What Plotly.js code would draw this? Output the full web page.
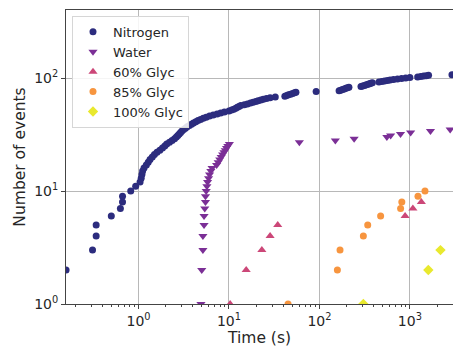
<!DOCTYPE html>
<html>
<head>
<meta charset="utf-8">
<script src="https://cdn.plot.ly/plotly-3.0.1.min.js"></script>
<style>html,body{margin:0;padding:0;background:#fff;}#chart{width:453px;height:347px;}</style>
</head>
<body>
<div id="chart"></div>
<script>
// ---- data ----
const seriesNames = ["Nitrogen", "Water", "60% Glyc", "85% Glyc", "100% Glyc"];

const nitrogenTime = [0.158,0.31,0.34,0.34,0.50,0.63,0.665,0.665,0.82,0.93,
  1.04,1.07,1.09,1.11,1.15,1.22,1.28,1.34,1.42,1.50,1.60,1.72,1.84,1.95,2.05,
  2.2,2.35,2.5,2.62,2.72,2.82,2.92,3.02,3.15,3.3,3.45,3.65,3.85,4.05,4.3,4.55,
  4.85,5.2,5.6,6.1,6.7,7.4,8.1,8.9,10.0,10.7,11.3,11.9,12.4,12.9,13.5,14.8,16.0,
  17.3,18.5,19.8,21.0,22.5,24.0,26.0,28.5,32.5,41.5,43.5,45.5,48.0,50.5,53.0,55.0,
  92,165,172,180,188,196,204,212,288,300,315,330,345,358,370,385,455,490,525,565,
  605,660,730,810,900,1000,1220,1320,1420,1520,1610,2920];
const nitrogenEvents = [2,3,4,5,6,7,8,9,10,11,12,13,14,15,16,17,18,19,20,21,22,23,24,25,26,
  27,28,29,30,31,32,33,34,35,36,37,38,39,40,41,42,43,44,45,46,47,48,49,50,51,52,53,54,55,
  56,57,58,59,60,61,62,63,64,65,66,67,68,69,70,71,72,73,74,75,76,77,78,79,80,81,82,83,84,
  85,86,87,88,89,90,91,92,93,94,95,96,97,98,99,100,101,102,103,104,105,106,107];

const waterTime = [4.9,5.0,5.15,5.15,5.3,5.3,5.4,5.5,5.5,5.6,5.7,5.8,5.95,6.1,6.3,6.5,
  7.3,7.6,7.9,8.2,8.5,8.8,9.1,9.4,9.7,10.1,60,150,242,557,613,788,1020,1690,2790];
const waterEvents = [1,2,3,4,5,6,7,8,9,10,11,12,13,14,15,16,17,18,19,20,21,22,23,24,25,26,
  27,28,29,30,31,32,33,34,35];

const glyc60Time = [10.3,15.5,23.1,28.5,34.6,886,1080,1340];
const glyc60Events = [1,2,3,4,5,6,7,8];

const glyc85Time = [45,158,169,306,342,475,790,815,1230,1470];
const glyc85Events = [1,2,3,4,5,6,7,8,9,10];

const glyc100Time = [306,1600,2180];
const glyc100Events = [1,2,3];

const xTickVals = [1,10,100,1000];
const xTickText = ["10<sup>0</sup>","10<sup>1</sup>","10<sup>2</sup>","10<sup>3</sup>"];
const yTickVals = [1,10,100];
const yTickText = ["10<sup>0</sup>","10<sup>1</sup>","10<sup>2</sup>"];

// ---- styling ----
const colors = ["#2c2c7e","#7b2f96","#cc4778","#f7953f","#e9e92e"];
const symbols = ["circle","triangle-down","triangle-up","circle","diamond"];
const sizes = [7,8,8,7,8];
const xs = [nitrogenTime, waterTime, glyc60Time, glyc85Time, glyc100Time];
const ys = [nitrogenEvents, waterEvents, glyc60Events, glyc85Events, glyc100Events];

const traces = seriesNames.map((n,i)=>({
  type:"scatter", mode:"markers", name:n, x:xs[i], y:ys[i],
  marker:{color:colors[i], symbol:symbols[i], size:sizes[i], line:{width:0}},
  cliponaxis:true
}));

const minorX = [];
[0.1,1,10,100,1000].forEach(d=>{for(let k=2;k<=9;k++){minorX.push(d*k);}});

const font = "DejaVu Sans, sans-serif";
const layout = {
  width:453, height:347,
  margin:{l:66, r:0, t:10, b:43, pad:0},
  paper_bgcolor:"#fff", plot_bgcolor:"#fff",
  font:{family:font, color:"#262626", size:13},
  showlegend:true,
  legend:{x:0.0155, y:0.98, xanchor:"left", yanchor:"top",
    bgcolor:"rgba(255,255,255,0.85)", bordercolor:"#d6d6d6", borderwidth:1,
    font:{family:font, size:13, color:"#262626"}},
  xaxis:{type:"log", range:[-0.802, 3.477],
    tickmode:"array", tickvals:xTickVals, ticktext:xTickText,
    ticks:"outside", ticklen:4, tickcolor:"#444", tickfont:{size:14, family:font},
    showline:true, linecolor:"#444", linewidth:1, mirror:true,
    showgrid:true, gridcolor:"#b8b8b8", gridwidth:1, zeroline:false,
    minor:{tickmode:"array", tickvals:minorX, ticks:"outside", ticklen:2, tickcolor:"#444", showgrid:false},
    title:{text:"Time (s)", font:{size:15.5, family:font, color:"#262626"}, standoff:5},
    automargin:false},
  yaxis:{type:"log", range:[0, 2.602],
    tickmode:"array", tickvals:yTickVals, ticktext:yTickText,
    ticks:"outside", ticklen:4, tickcolor:"#444", tickfont:{size:14, family:font},
    showline:true, linecolor:"#444", linewidth:1, mirror:true,
    showgrid:true, gridcolor:"#b8b8b8", gridwidth:1, zeroline:false,
    title:{text:"Number of events", font:{size:15.5, family:font, color:"#262626"}, standoff:4},
    automargin:false}
};

Plotly.newPlot("chart", traces, layout, {staticPlot:true, displayModeBar:false});
</script>
</body>
</html>
